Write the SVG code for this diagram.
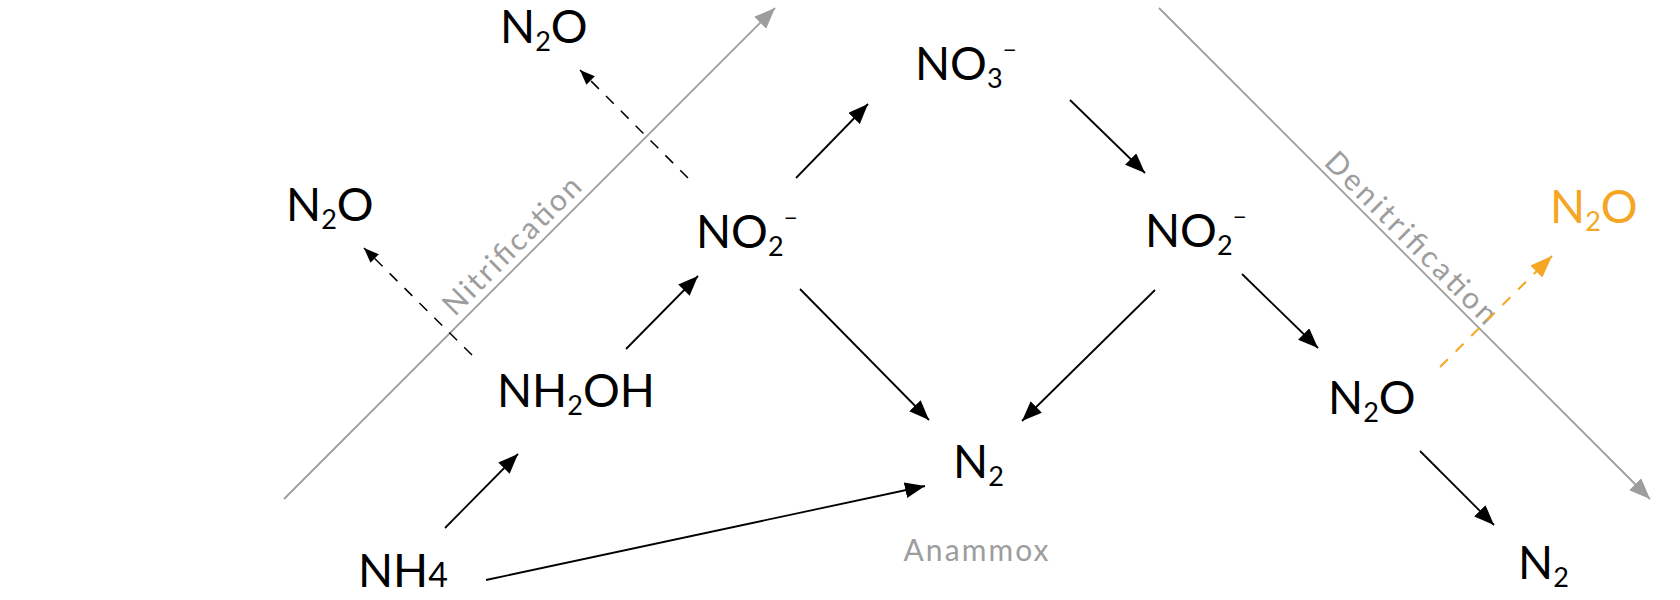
<svg xmlns="http://www.w3.org/2000/svg" width="1680" height="600" viewBox="0 0 1680 600">
<style>
.chem{font-family:Lato,"Open Sans","Liberation Sans",sans-serif;font-size:46px;fill:#000}
.sub{font-size:27px}
.sup{font-size:24px}
.lbl{font-family:Lato,"Open Sans","Liberation Sans",sans-serif;font-size:30px;fill:#9d9d9d}
.orange{fill:#f5a623}
.solid{stroke:#000;stroke-width:1.8;fill:none;marker-end:url(#ah)}
.dash{stroke:#000;stroke-width:1.5;fill:none;stroke-dasharray:11 10;marker-end:url(#ahs)}
.odash{stroke:#f5a623;stroke-width:2;fill:none;stroke-dasharray:11 11;marker-end:url(#aho)}
.axis{stroke:#9d9d9d;stroke-width:1.8;fill:none;marker-end:url(#ahg)}
</style>
<defs>
<marker id="ah" markerUnits="userSpaceOnUse" markerWidth="20" markerHeight="16" refX="20" refY="8" orient="auto"><path d="M0,0 L20,8 L0,16 z" fill="#000"/></marker>
<marker id="ahs" markerUnits="userSpaceOnUse" markerWidth="15" markerHeight="12" refX="15" refY="6" orient="auto"><path d="M0,0 L15,6 L0,12 z" fill="#000"/></marker>
<marker id="aho" markerUnits="userSpaceOnUse" markerWidth="22" markerHeight="17" refX="22" refY="8.5" orient="auto"><path d="M0,0 L22,8.5 L0,17 z" fill="#f5a623"/></marker>
<marker id="ahg" markerUnits="userSpaceOnUse" markerWidth="21" markerHeight="17" refX="21" refY="8.5" orient="auto"><path d="M0,0 L21,8.5 L0,17 z" fill="#9d9d9d"/></marker>
</defs>

<g id="process-axes">
<path class="axis" d="M284,499 L775,8"/>
<path class="axis" d="M1159,8 L1650,499"/>
<text class="lbl" transform="translate(519,253) rotate(-45)" text-anchor="middle" textLength="182" lengthAdjust="spacing">Nitrification</text>
<text class="lbl" transform="translate(1404,245) rotate(45)" text-anchor="middle" textLength="230" lengthAdjust="spacing">Denitrification</text>
<text class="lbl" x="976" y="561" text-anchor="middle" textLength="145" lengthAdjust="spacing">Anammox</text>
</g>

<g id="connectors">
<path class="solid" d="M445,528 L518,454"/>
<path class="solid" d="M626,349 L698,276"/>
<path class="solid" d="M796,178 L868,104"/>
<path class="solid" d="M1070,100 L1145,173"/>
<path class="solid" d="M800,289 L929,420"/>
<path class="solid" d="M1155,290 L1022,421"/>
<path class="solid" d="M486,580 L925,486"/>
<path class="solid" d="M1242,274 L1318,348"/>
<path class="solid" d="M1420,451 L1494,525"/>
<path class="dash" d="M472,355 L364,248"/>
<path class="dash" d="M688,178 L580,70"/>
<path class="odash" d="M1440,367 L1552,256"/>
</g>

<g id="node-nh4"><text class="chem" x="358" y="587">NH<tspan font-size="34">4</tspan></text></g>
<g id="node-nh2oh"><text class="chem" x="497" y="407">NH<tspan class="sub" dy="8">2</tspan><tspan dy="-8">OH</tspan></text></g>
<g id="node-n2o-left"><text class="chem" x="286" y="221">N<tspan class="sub" dy="8">2</tspan><tspan dy="-8">O</tspan></text></g>
<g id="node-n2o-top"><text class="chem" x="500" y="43">N<tspan class="sub" dy="8">2</tspan><tspan dy="-8">O</tspan></text></g>
<g id="node-no2-left"><text class="chem" x="696" y="248">NO<tspan class="sub" dy="8">2</tspan><tspan class="sup" dy="-30">−</tspan></text></g>
<g id="node-no3"><text class="chem" x="915" y="80">NO<tspan class="sub" dy="8">3</tspan><tspan class="sup" dy="-30">−</tspan></text></g>
<g id="node-no2-right"><text class="chem" x="1145" y="247">NO<tspan class="sub" dy="8">2</tspan><tspan class="sup" dy="-30">−</tspan></text></g>
<g id="node-n2-center"><text class="chem" x="953" y="478">N<tspan class="sub" dy="8">2</tspan></text></g>
<g id="node-n2o-right"><text class="chem" x="1328" y="414">N<tspan class="sub" dy="8">2</tspan><tspan dy="-8">O</tspan></text></g>
<g id="node-n2-right"><text class="chem" x="1518" y="579">N<tspan class="sub" dy="8">2</tspan></text></g>
<g id="node-n2o-orange"><text class="chem orange" x="1550" y="223">N<tspan class="sub" dy="8">2</tspan><tspan dy="-8">O</tspan></text></g>
</svg>
